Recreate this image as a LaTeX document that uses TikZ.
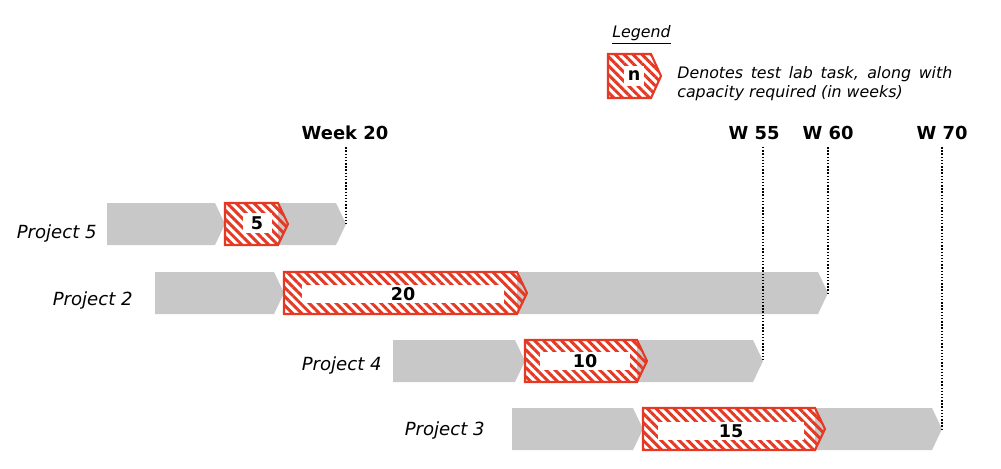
\documentclass[tikz,border=0pt]{standalone}
\usepackage{fontspec}
\setmainfont{DejaVu Sans}
\usetikzlibrary{patterns.meta}

\definecolor{idlegray}{RGB}{200,200,200}
\definecolor{labred}{RGB}{229,57,36}

\tikzset{
  idle/.style={fill=idlegray},
  labtask/.style={draw=labred, line width=1.2pt,
    pattern={Lines[angle=-45,distance=3.6pt,line width=1.7pt]}, pattern color=labred},
  slot/.style={fill=white, inner sep=0pt, font=\fontsize{10}{12}\selectfont\bfseries},
  proj/.style={anchor=east, inner sep=0pt, font=\fontsize{10.3}{12}\selectfont\itshape},
  week/.style={inner sep=0pt, font=\fontsize{10.2}{12}\selectfont\bfseries},
  marker/.style={densely dotted, line width=0.8pt, shorten <=4pt}
}

% one bar segment: style, left x, tip x, top y, height
\newcommand{\chevron}[5]{\path[#1] (#2,#4) -- ({#3-10},#4) -- (#3,{#4+#5/2}) -- ({#3-10},{#4+#5}) -- (#2,{#4+#5}) -- cycle;}

\begin{document}
\begin{tikzpicture}[x=0.02cm, y=-0.02cm]
\useasboundingbox (0,0) rectangle (1001,468);

% legend
\node[anchor=west, inner sep=0pt, font=\fontsize{9}{11}\selectfont\itshape] (legend) at (612,35) {\underline{Legend}};
\chevron{labtask}{608}{661}{54}{44}
\node[slot, minimum width=0.4cm, minimum height=0.4cm] (n) at (634,76) {n};
\node[anchor=west, inner sep=0pt, text width=5.5cm, align=justify,
      font=\fontsize{9}{10.8}\selectfont\itshape] (note) at (677,84)
      {Denotes test lab task, along with capacity required (in weeks)};

% idle time
\chevron{idle}{107}{225}{203}{42}
\chevron{idle}{278}{346}{203}{42}
\chevron{idle}{155}{284}{272}{42}
\chevron{idle}{517}{828}{272}{42}
\chevron{idle}{393}{525}{340}{42}
\chevron{idle}{637}{763}{340}{42}
\chevron{idle}{512}{643}{408}{42}
\chevron{idle}{815}{942}{408}{42}

% test lab tasks
\chevron{labtask}{225}{288}{203}{42}
\chevron{labtask}{284}{527}{272}{42}
\chevron{labtask}{525}{647}{340}{42}
\chevron{labtask}{643}{825}{408}{42}

\begin{scope}[every node/.style={slot, minimum height=0.36cm}]
    \node[minimum width=0.58cm, minimum height=0.4cm] (c5) at (257,223) {5};
    \node[minimum width=4.06cm] (c2) at (403,294) {20};
    \node[minimum width=1.8cm] (c4) at (585,361) {10};
    \node[minimum width=2.94cm] (c3) at (731,431) {15};
\end{scope}

\node[proj] (p5) at (97,233) {Project 5};
\node[proj] (p2) at (133,300) {Project 2};
\node[proj] (p4) at (382,365) {Project 4};
\node[proj] (p3) at (485,430) {Project 3};

% milestones
\node[week] (w20) at (345,133) {Week 20};
\node[week] (w55) at (754,133) {W 55};
\node[week] (w60) at (828,133) {W 60};
\node[week] (w70) at (942,133) {W 70};

\coordinate (t5) at (346,224);
\coordinate (t2) at (828,293);
\coordinate (t4) at (763,361);
\coordinate (t3) at (942,429);

\draw[marker] (t5 |- w20.south) -- (t5);
\draw[marker] (t4 |- w55.south) -- (t4);
\draw[marker] (t2 |- w60.south) -- (t2);
\draw[marker] (t3 |- w70.south) -- (t3);
\end{tikzpicture}
\end{document}
